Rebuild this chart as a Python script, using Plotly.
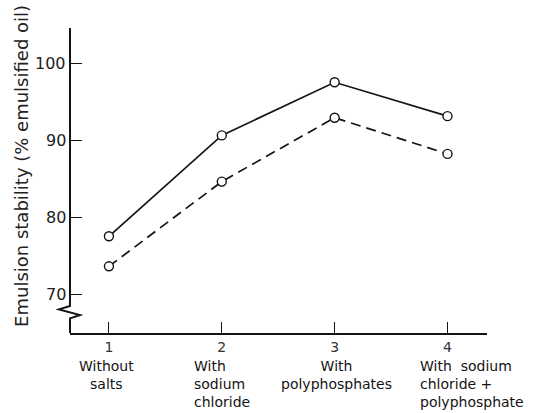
import plotly.graph_objects as go

# Treatment index and the salts added for each
treatment = [1, 2, 3, 4]
tick_text = ["1", "2", "3", "4"]
treatment_labels = [
    "Without<br>salts",
    "With<br>sodium<br>chloride",
    "With<br>polyphosphates",
    "With  sodium<br>chloride +<br>polyphosphate",
]

# Emulsion stability (% emulsified oil) for the two series
stability_solid = [77.5, 90.6, 97.5, 93.1]
stability_dashed = [73.6, 84.6, 92.9, 88.2]

y_ticks = [70, 80, 90, 100]
y_range = [64.94, 104.55]
x_range = [0.655, 4.35]

ink = "#141414"
font_family = "DejaVu Sans"

marker_style = dict(symbol="circle", size=9, color="white",
                    line=dict(color=ink, width=1.4))

fig = go.Figure()
fig.add_trace(go.Scatter(
    x=treatment, y=stability_solid, mode="lines+markers",
    line=dict(color=ink, width=1.7), marker=marker_style,
    showlegend=False, cliponaxis=False,
))
fig.add_trace(go.Scatter(
    x=treatment, y=stability_dashed, mode="lines+markers",
    line=dict(color=ink, width=1.7, dash="10px,6px"), marker=marker_style,
    showlegend=False, cliponaxis=False,
))

# Vertical axis drawn by hand so it can carry the broken-scale zigzag
fig.add_shape(
    type="path", xref="paper", xsizemode="pixel", xanchor=0, yref="y",
    path=("M 0,%g L 0,68.44 L -11,68.01 L 10,67.27 L 0,66.84 L 0,%g"
          % (y_range[1], y_range[0])),
    line=dict(color=ink, width=2),
)

# Value labels for the vertical axis, set just left of the axis line
for yv in y_ticks:
    fig.add_annotation(
        x=0, xref="paper", xanchor="right", xshift=-2, y=yv, yref="y",
        yanchor="middle", text=str(yv), showarrow=False,
        font=dict(size=16, color="#222", family=font_family),
    )

# Category descriptions under the numbered ticks
anchors = [
    dict(xanchor="center", align="center", xshift=-2),
    dict(xanchor="center", align="left", xshift=0),
    dict(xanchor="center", align="center", xshift=2),
    dict(xanchor="left", align="left", xshift=-30),
]
for xi, label, a in zip(treatment, treatment_labels, anchors):
    fig.add_annotation(
        x=xi, xref="x", y=0, yref="paper", yanchor="top", yshift=-23,
        text=label, showarrow=False, font=dict(size=14, color=ink, family=font_family),
        **a,
    )

fig.add_annotation(
    x=-0.115, xref="paper", xanchor="center", y=0.548, yref="paper", yanchor="middle",
    text="Emulsion stability (% emulsified oil)", textangle=-90,
    showarrow=False, font=dict(size=18, color="#222", family=font_family),
)

fig.update_layout(
    width=534, height=413,
    margin=dict(l=70, r=47, t=28, b=80),
    paper_bgcolor="white", plot_bgcolor="white",
    font=dict(family=font_family, color=ink),
)
fig.update_xaxes(
    range=x_range, tickmode="array", tickvals=treatment, ticktext=tick_text,
    ticks="inside", ticklen=11, tickwidth=1.3, tickcolor=ink,
    showline=True, linewidth=2, linecolor=ink, showgrid=False, zeroline=False,
    tickfont=dict(size=14, color="#333"),
)
fig.update_yaxes(
    range=y_range, tickmode="array", tickvals=y_ticks, showticklabels=False,
    ticks="inside", ticklen=12, tickwidth=1.3, tickcolor=ink,
    showline=False, showgrid=False, zeroline=False,
)

fig.write_html("out.html")
